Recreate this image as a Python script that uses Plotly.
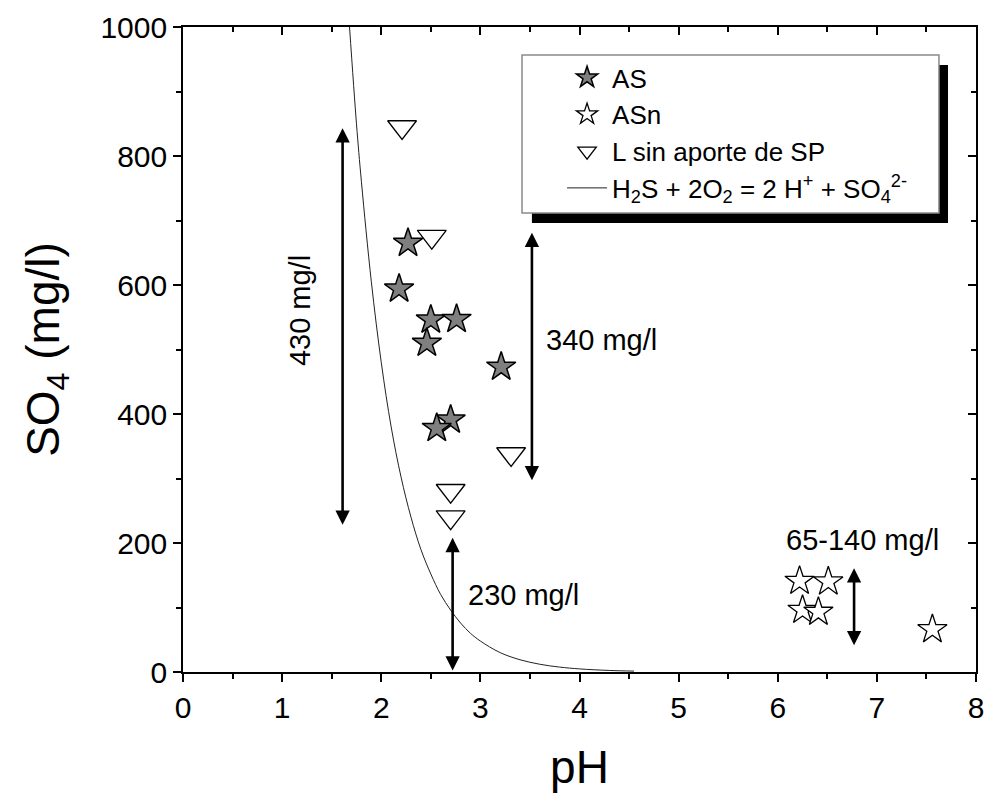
import plotly.graph_objects as go

# ---------------- data ----------------
as_ph = [2.27, 2.18, 2.50, 2.76, 2.46, 3.21, 2.70, 2.56]
as_so4 = [665, 594, 546, 547, 510, 473, 391, 378]

asn_ph = [6.22, 6.51, 6.25, 6.41, 7.56]
asn_so4 = [141, 140, 96, 93, 66]

l_ph = [2.21, 2.51, 3.31, 2.70, 2.70]
l_so4 = [845, 675, 338, 281, 240]

curve_ph = [1.68, 1.75, 1.80, 1.90, 2.00, 2.10, 2.20, 2.30, 2.40, 2.50, 2.60, 2.70,
            2.80, 2.90, 3.00, 3.20, 3.40, 3.60, 3.80, 4.00, 4.30, 4.55]
curve_so4 = [1000, 850, 760, 605, 480, 380, 302, 240, 190, 152, 120, 96,
             76, 60, 48, 30, 19, 12, 7.6, 4.8, 2.4, 1.4]

x_ticks = [0, 1, 2, 3, 4, 5, 6, 7, 8]
y_ticks = [0, 200, 400, 600, 800, 1000]

# range arrows: (pH, low, high)
range_arrows = [(1.61, 226, 843), (3.52, 295, 681), (2.72, 0, 208), (6.77, 39, 161)]
range_labels = ["430 mg/l", "340 mg/l", "230 mg/l", "65-140 mg/l"]

FONT = "Liberation Sans, Arial, sans-serif"

fig = go.Figure()

fig.add_trace(go.Scatter(
    x=as_ph, y=as_so4, mode="markers", name="AS",
    marker=dict(symbol="star", size=22, color="#7f7f7f",
                line=dict(color="black", width=1.5))))
fig.add_trace(go.Scatter(
    x=asn_ph, y=asn_so4, mode="markers", name="ASn",
    marker=dict(symbol="star", size=22, color="white",
                line=dict(color="black", width=1.3))))
fig.add_trace(go.Scatter(
    x=l_ph, y=l_so4, mode="markers", name="L sin aporte de SP",
    marker=dict(symbol="triangle-down", size=25, color="white",
                line=dict(color="black", width=1.3))))
fig.add_trace(go.Scatter(
    x=curve_ph, y=curve_so4, mode="lines",
    name="H<sub>2</sub>S + 2O<sub>2</sub> = 2 H<sup>+</sup> + SO<sub>4</sub><sup>2-</sup>",
    line=dict(color="#222222", width=1, shape="spline"), cliponaxis=True))
# helper trace so the mirrored (inside-tick) axes are drawn
fig.add_trace(go.Scatter(x=[None], y=[None], xaxis="x2", yaxis="y2",
                         showlegend=False, hoverinfo="skip"))

annotations = []
for (xp, lo, hi) in range_arrows:
    annotations.append(dict(
        x=xp, y=hi, ax=xp, ay=lo, xref="x", yref="y", axref="x", ayref="y",
        text="", showarrow=True, arrowside="end+start",
        arrowhead=2, startarrowhead=2, arrowsize=1.1, startarrowsize=1.1,
        arrowwidth=2.6, arrowcolor="black"))

lab_font = dict(family=FONT, size=29, color="black")
annotations.append(dict(x=1.18, y=561, xref="x", yref="y", text=range_labels[0],
                        showarrow=False, textangle=-90, font=lab_font))
annotations.append(dict(x=3.64, y=515, xref="x", yref="y", text=range_labels[1],
                        showarrow=False, xanchor="left", font=lab_font))
annotations.append(dict(x=2.85, y=119, xref="x", yref="y", text=range_labels[2],
                        showarrow=False, xanchor="left", font=lab_font))
annotations.append(dict(x=6.85, y=205, xref="x", yref="y", text=range_labels[3],
                        showarrow=False, font=lab_font))

shapes = [
    # legend shadow
    dict(type="rect", xref="paper", yref="paper", x0=0.440, x1=0.9647,
         y0=0.696, y1=0.941, fillcolor="black", line=dict(width=0), layer="above"),
    # legend box
    dict(type="rect", xref="paper", yref="paper", x0=0.4275, x1=0.9533,
         y0=0.7116, y1=0.9566, fillcolor="white",
         line=dict(color="#8a8a8a", width=1.5), layer="above"),
]

axis_common = dict(showline=True, linecolor="black", linewidth=1.6,
                   showgrid=False, zeroline=False, tickcolor="black",
                   tickwidth=1.6, ticklen=8, automargin=False)

fig.update_layout(
    width=987, height=801,
    margin=dict(l=183, r=11, t=27, b=129, autoexpand=False),
    paper_bgcolor="white", plot_bgcolor="white",
    font=dict(family=FONT, color="black"),
    showlegend=True,
    legend=dict(x=0.478, y=0.958, xanchor="left", yanchor="top",
                bgcolor="rgba(0,0,0,0)", borderwidth=0,
                font=dict(family=FONT, size=26, color="black"),
                itemwidth=40, tracegroupgap=0),
    xaxis=dict(range=[0, 8], tickvals=x_ticks, ticktext=[str(v) for v in x_ticks],
               ticks="outside", tickfont=dict(family=FONT, size=30),
               minor=dict(dtick=0.5, tick0=0, ticks="outside", ticklen=5,
                          tickwidth=1.6, tickcolor="black"),
               title=dict(text="pH", font=dict(family=FONT, size=46), standoff=28),
               **axis_common),
    yaxis=dict(range=[0, 1000], tickvals=y_ticks, ticktext=[str(v) for v in y_ticks],
               ticks="outside", tickfont=dict(family=FONT, size=30),
               minor=dict(dtick=100, tick0=0, ticks="outside", ticklen=5,
                          tickwidth=1.6, tickcolor="black"),
               title=dict(text="SO<sub>4</sub> (mg/l)", font=dict(family=FONT, size=46),
                          standoff=26),
               **axis_common),
    xaxis2=dict(overlaying="x", side="top", range=[0, 8], tickvals=x_ticks,
                showticklabels=False, ticks="inside",
                minor=dict(dtick=0.5, tick0=0, ticks="inside", ticklen=5,
                           tickwidth=1.6, tickcolor="black"),
                **axis_common),
    yaxis2=dict(overlaying="y", side="right", range=[0, 1000], tickvals=y_ticks,
                showticklabels=False, ticks="inside",
                minor=dict(dtick=100, tick0=0, ticks="inside", ticklen=5,
                           tickwidth=1.6, tickcolor="black"),
                **axis_common),
    annotations=annotations,
    shapes=shapes,
)

fig.write_html("out.html")
